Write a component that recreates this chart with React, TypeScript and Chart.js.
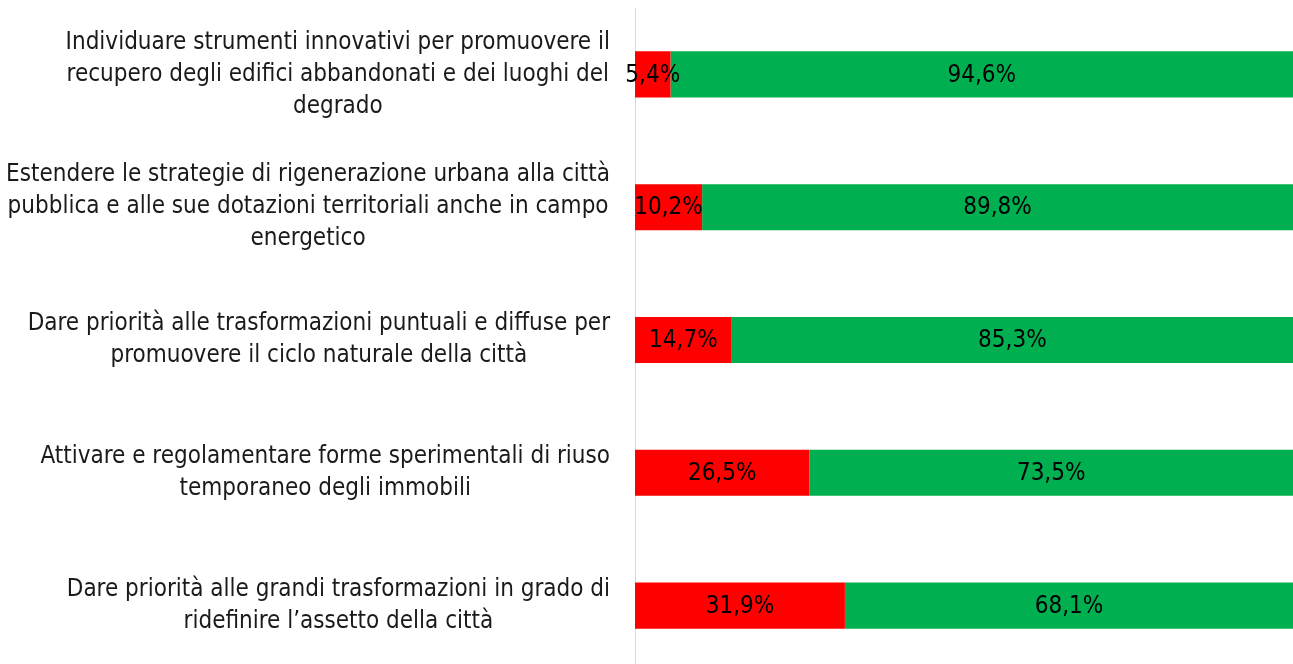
import React, { useEffect, useRef } from "react";
import { Chart, registerables } from "chart.js";

Chart.register(...registerables);

const categoryLines: string[][] = [
  ["Individuare strumenti innovativi per promuovere il", "recupero degli edifici abbandonati e dei luoghi del", "degrado"],
  ["Estendere le strategie di rigenerazione urbana alla città", "pubblica e alle sue dotazioni territoriali anche in campo", "energetico"],
  ["Dare priorità alle trasformazioni puntuali e diffuse per", "promuovere il ciclo naturale della città"],
  ["Attivare e regolamentare forme sperimentali di riuso", "temporaneo degli immobili"],
  ["Dare priorità alle grandi trasformazioni in grado di", "ridefinire l’assetto della città"],
];
const categories = categoryLines.map((l) => l.join(" "));
const noValues = [5.4, 10.2, 14.7, 26.5, 31.9];
const yesValues = [94.6, 89.8, 85.3, 73.5, 68.1];

const FONT = '"Liberation Sans Narrow", "DejaVu Sans Condensed", sans-serif';

const labelsPlugin = {
  id: "customLabels",
  afterDraw(chart: any) {
    const ctx = chart.ctx;
    const yScale = chart.scales.y;
    ctx.save();
    // category labels
    ctx.font = `24px ${FONT}`;
    ctx.fillStyle = "#1a1a1a";
    ctx.textAlign = "center";
    ctx.textBaseline = "middle";
    const lineH = 32;
    categoryLines.forEach((lines, i) => {
      const cy = yScale.getPixelForValue(i);
      const maxW = Math.max(...lines.map((t) => ctx.measureText(t).width));
      const cx = 610 - maxW / 2;
      const startY = cy - ((lines.length - 1) * lineH) / 2;
      lines.forEach((t, j) => ctx.fillText(t, cx, startY + j * lineH));
    });
    // data labels
    ctx.font = `24px ${FONT}`;
    ctx.fillStyle = "#000000";
    chart.data.datasets.forEach((ds: any, di: number) => {
      const meta = chart.getDatasetMeta(di);
      meta.data.forEach((bar: any, i: number) => {
        const v = ds.data[i];
        const txt = v.toFixed(1).replace(".", ",") + "%";
        const cx = (bar.x + bar.base) / 2;
        ctx.fillText(txt, cx, bar.y + 1);
      });
    });
    ctx.restore();
  },
};

export default function App() {
  const ref = useRef<HTMLCanvasElement | null>(null);
  useEffect(() => {
    document.body.style.margin = "0";
    const chart = new Chart(ref.current!, {
      type: "bar",
      data: {
        labels: categories,
        datasets: [
          { label: "No", data: noValues, backgroundColor: "#FF0000", borderWidth: 0 },
          { label: "Sì", data: yesValues, backgroundColor: "#00B050", borderWidth: 0 },
        ],
      },
      options: {
        indexAxis: "y",
        animation: false,
        responsive: false,
        maintainAspectRatio: false,
        layout: { padding: { top: 8, left: 0, right: 0, bottom: 0 } },
        plugins: { legend: { display: false }, tooltip: { enabled: false } },
        datasets: { bar: { categoryPercentage: 0.347, barPercentage: 1 } },
        scales: {
          x: { stacked: true, min: 0, max: 100, display: false },
          y: {
            stacked: true,
            ticks: { display: false },
            grid: { display: false },
            border: { display: true, color: "#d9d9d9", width: 1 },
            afterFit: (s: any) => {
              s.width = 635;
            },
          },
        },
      },
      plugins: [labelsPlugin],
    });
    return () => chart.destroy();
  }, []);
  return (
    <div style={{ width: 1293, height: 664, overflow: "hidden" }}>
      <canvas ref={ref} width={1293} height={672} style={{ display: "block" }} />
    </div>
  );
}
